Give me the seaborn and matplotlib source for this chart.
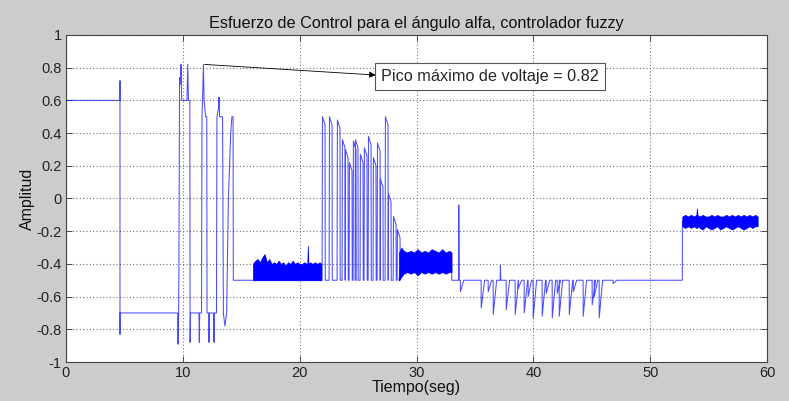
import numpy as np
import pandas as pd
import matplotlib
matplotlib.use("Agg")
import matplotlib.pyplot as plt
import seaborn as sns

# ---- control effort data (time in s, amplitude) ----
# start-up and first oscillations
head_t = [0.0, 4.62, 4.62, 4.62, 4.62, 9.55, 9.56, 9.62, 9.66, 9.72, 9.80, 9.85, 9.90,
          10.35, 10.42, 10.48, 10.60, 10.62, 10.66, 11.38, 11.41, 11.44, 11.60, 11.64,
          11.70, 11.76, 11.82, 11.95, 12.05, 12.07, 12.22, 12.24, 12.27, 12.64, 12.67,
          12.70, 12.88, 12.92, 13.05, 13.10, 13.15, 13.40, 13.47, 13.60, 13.75, 13.90,
          14.10, 14.20, 14.30, 14.32, 21.85]
head_v = [0.60, 0.60, 0.72, -0.83, -0.70, -0.70, -0.89, -0.89, -0.50, 0.74, 0.70, 0.82, 0.60,
          0.60, 0.82, 0.60, 0.60, -0.88, -0.70, -0.70, -0.88, -0.70, -0.70, 0.50,
          0.64, 0.82, 0.60, 0.50, 0.50, -0.70, -0.70, -0.88, -0.70, -0.70, -0.88,
          -0.70, -0.70, 0.50, 0.55, 0.62, 0.50, 0.50, -0.70, -0.78, -0.70, 0.00,
          0.40, 0.50, 0.50, -0.50, -0.50]

# burst of spikes between 22 s and 28.5 s
burst_t = [21.92, 22.52, 23.20, 23.63, 23.89, 24.23, 24.57, 24.74, 25.17, 25.51,
           25.86, 26.28, 26.63, 26.88, 27.31, 27.57, 28.00, 28.34]
burst_peak = [0.50, 0.50, 0.48, 0.36, 0.30, 0.22, 0.35, 0.36, 0.27, 0.31,
              0.38, 0.25, 0.34, 0.12, 0.50, 0.03, -0.11, -0.19]

# negative dips after 33 s
dip_t = [33.75, 35.53, 36.13, 36.56, 37.67, 38.44, 38.70, 39.21, 39.55, 39.98, 40.75,
         41.10, 41.61, 42.04, 42.21, 43.07, 43.41, 44.26, 45.03, 45.21, 45.63, 46.83]
dip_v = [-0.57, -0.67, -0.57, -0.71, -0.68, -0.71, -0.55, -0.70, -0.60, -0.73, -0.72,
         -0.58, -0.73, -0.58, -0.72, -0.71, -0.57, -0.72, -0.65, -0.60, -0.73, -0.52]

# isolated upward blips on the -0.5 level
blip_t = [33.60, 37.16]
blip_v = [-0.04, -0.41]

# chattering bands: sample times with upper / lower envelope
band1_t = [16.0, 16.2, 16.4, 16.6, 16.8, 17.0, 17.2, 17.4, 17.6, 17.8, 18.0, 18.2, 18.4,
           18.6, 18.8, 19.0, 19.2, 19.4, 19.6, 19.8, 20.0, 20.2, 20.4, 20.6, 20.65, 20.7,
           20.75, 20.9, 21.1, 21.3, 21.5, 21.7, 21.85]
band1_hi = [-0.40, -0.38, -0.37, -0.39, -0.36, -0.34, -0.39, -0.37, -0.40, -0.39, -0.40,
            -0.38, -0.40, -0.39, -0.41, -0.39, -0.40, -0.38, -0.40, -0.39, -0.40, -0.40,
            -0.39, -0.40, -0.40, -0.29, -0.40, -0.39, -0.40, -0.39, -0.40, -0.39, -0.40]
band1_lo = [-0.50] * len(band1_t)

band2_t = [28.5, 28.7, 28.9, 29.2, 29.5, 29.8, 30.1, 30.4, 30.7, 31.0, 31.3, 31.6,
           31.9, 32.2, 32.5, 32.8, 33.0]
band2_hi = [-0.33, -0.30, -0.32, -0.33, -0.32, -0.33, -0.31, -0.33, -0.32, -0.33, -0.31, -0.32,
            -0.33, -0.31, -0.33, -0.32, -0.33]
band2_lo = [-0.50, -0.48, -0.46, -0.45, -0.46, -0.45, -0.47, -0.45, -0.46, -0.45, -0.46, -0.45,
            -0.46, -0.45, -0.46, -0.45, -0.45]

band3_t = [52.75, 53.0, 53.25, 53.5, 53.75, 53.95, 54.0, 54.05, 54.25, 54.5, 54.75, 55.0,
           55.25, 55.5, 55.75, 56.0, 56.25, 56.5, 56.75, 57.0, 57.25, 57.5, 57.75, 58.0,
           58.25, 58.5, 58.75, 59.0, 59.2]
band3_hi = [-0.11, -0.10, -0.11, -0.10, -0.11, -0.10, -0.06, -0.10, -0.11, -0.10, -0.11,
            -0.11, -0.10, -0.11, -0.10, -0.11, -0.11, -0.10, -0.11, -0.10, -0.11, -0.10,
            -0.11, -0.10, -0.11, -0.10, -0.11, -0.10, -0.11]
band3_lo = [-0.17, -0.18, -0.17, -0.18, -0.17, -0.18, -0.18, -0.17, -0.18, -0.19, -0.17,
            -0.18, -0.19, -0.18, -0.17, -0.19, -0.18, -0.17, -0.18, -0.19, -0.18, -0.17,
            -0.18, -0.19, -0.18, -0.17, -0.18, -0.17, -0.17]

peak_value = 0.82
peak_time = 11.76

x_ticks = [0, 10, 20, 30, 40, 50, 60]
y_ticks = [-1, -0.8, -0.6, -0.4, -0.2, 0, 0.2, 0.4, 0.6, 0.8, 1]
y_tick_labels = ["-1", "-0.8", "-0.6", "-0.4", "-0.2", "0", "0.2", "0.4", "0.6", "0.8", "1"]

title = "Esfuerzo de Control para el ángulo alfa, controlador fuzzy"
note = f"Pico máximo de voltaje = {peak_value}"

# ---- assemble the trace ----
LEVEL = -0.5
SPIKE_W = 0.25
DIP_W = 0.3

tt = list(head_t)
vv = list(head_v)
for t, p in zip(burst_t, burst_peak):
    tt += [t, t + 0.03, t + SPIKE_W, t + SPIKE_W + 0.02]
    vv += [LEVEL, p, p - 0.05, LEVEL]
tt += [28.5, 28.7, 33.0, 33.02]
vv += [LEVEL, -0.40, -0.40, LEVEL]

events = sorted([(t, v, "dip") for t, v in zip(dip_t, dip_v)] +
                [(t, v, "blip") for t, v in zip(blip_t, blip_v)])
for t, v, kind in events:
    if kind == "dip":
        tt += [t, t + 0.01, t + DIP_W]
        vv += [LEVEL, v, LEVEL]
    else:
        tt += [t, t + 0.02, t + 0.06]
        vv += [LEVEL, v, LEVEL]
tt += [52.75, 52.76, 59.2]
vv += [LEVEL, -0.14, -0.14]

trace = pd.DataFrame({"Tiempo": tt, "Amplitud": vv})

# ---- figure ----
sns.set_style("ticks")
plt.rcParams["font.family"] = ["Liberation Sans", "DejaVu Sans"]

fig = plt.figure(figsize=(7.89, 4.01), dpi=100, facecolor="#cccccc")
ax = fig.add_axes([66 / 789, 1 - 362 / 401, 701 / 789, 327 / 401])
ax.set_facecolor("white")

line_col = "#0000ff"
for bt, blo, bhi in [(band1_t, band1_lo, band1_hi),
                     (band2_t, band2_lo, band2_hi),
                     (band3_t, band3_lo, band3_hi)]:
    ax.fill_between(bt, blo, bhi, color=line_col, lw=0.5, edgecolor=line_col, zorder=3)

sns.lineplot(data=trace, x="Tiempo", y="Amplitud", sort=False, estimator=None,
             color=line_col, lw=0.75, alpha=0.7, ax=ax, zorder=3)

ax.set_xlim(0, 60)
ax.set_ylim(-1, 1)
ax.set_xticks(x_ticks)
ax.set_yticks(y_ticks)
ax.set_yticklabels(y_tick_labels)
ax.grid(True, color="#777777", linestyle=(0, (1, 2)), linewidth=0.8)
ax.tick_params(direction="in", length=4, width=0.6, top=True, right=True,
               labelsize=10.5, labelcolor="#222222", color="#333333", pad=3)
for s in ax.spines.values():
    s.set_visible(True)
    s.set_color("#444444")
    s.set_linewidth(0.8)

ax.set_title(title, fontsize=11.7, pad=5, color="#111111")
ax.set_xlabel("Tiempo(seg)", fontsize=11.5, labelpad=0, color="#111111")
ax.set_ylabel("Amplitud", fontsize=11.5, labelpad=1, color="#111111")

# annotation box with arrow from the maximum
ax.annotate("", xy=(26.5, 0.755), xytext=(peak_time + 0.1, peak_value),
            arrowprops=dict(arrowstyle="-|>", color="black", lw=0.6,
                            mutation_scale=9, shrinkA=0, shrinkB=0), zorder=5)
ax.text(26.97, 0.745, note, fontsize=11.7, ha="left", va="center", zorder=6,
        bbox=dict(boxstyle="square,pad=0.38", facecolor="white",
                  edgecolor="#555555", linewidth=0.8))

fig.savefig("out.png", dpi=100, facecolor=fig.get_facecolor())
